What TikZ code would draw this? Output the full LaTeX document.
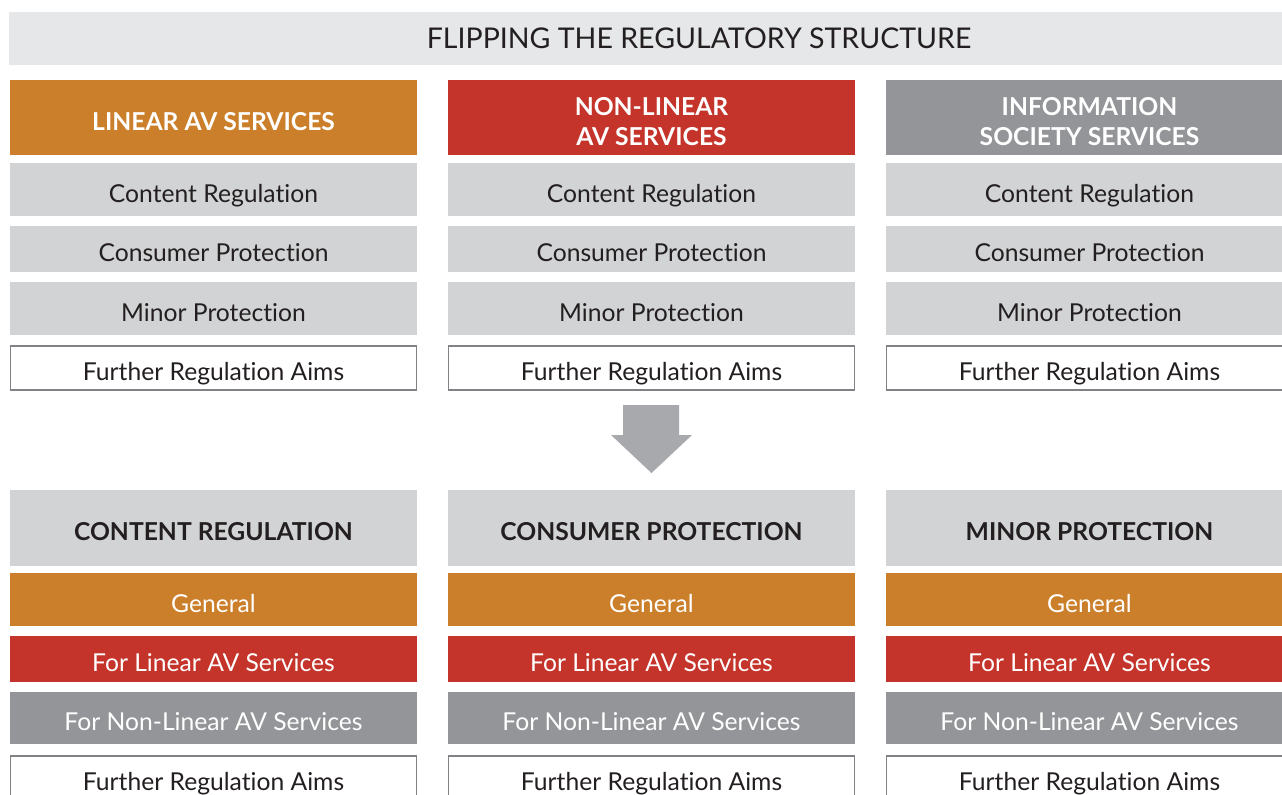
\documentclass[tikz,border=0pt]{standalone}
\usepackage{fontspec}
\setmainfont{Lato}[Ligatures={NoCommon,NoContextual}]
\definecolor{tband}{HTML}{E6E7E8}
\definecolor{lgray}{HTML}{D1D3D4}
\definecolor{dgray}{HTML}{939598}
\definecolor{orng}{HTML}{CC7F2A}
\definecolor{rred}{HTML}{C4342A}
\definecolor{txt}{HTML}{231F20}
\definecolor{bord}{HTML}{808285}
\definecolor{arr}{HTML}{A7A9AC}
\begin{document}
\begin{tikzpicture}[x=0.75pt,y=-0.75pt,
  cell/.style 2 args={rectangle,anchor=north west,inner sep=0pt,outer sep=0pt,
    minimum width=#1*0.75pt,minimum height=#2*0.75pt,align=center},
  hdr/.style={font=\fontsize{18.5}{22}\selectfont\bfseries,text height=19pt,text depth=0pt},
  hdrtwo/.style={font=\fontsize{18.5}{22}\selectfont\bfseries,align=center,inner sep=0pt,yshift=-3pt},
  reg/.style={font=\fontsize{18.5}{22}\selectfont,text=txt,text height=19pt,text depth=0pt},
  lg/.style={fill=lgray},
  wh/.style={fill=white,draw=bord,line width=0.9pt},
  og/.style={fill=orng,text=white},
  rd/.style={fill=rred,text=white},
  dg/.style={fill=dgray,text=white}]
\useasboundingbox (0,0) rectangle (1282,794);
\fill[white] (0,0) rectangle (1282,794);
% title
\node[cell={1290}{53},fill=tband] (title) at (9,12) {};
\node[font=\fontsize{21.4}{24}\selectfont,text=txt] (titletext) at (699,38.5) {FLIPPING THE REGULATORY STRUCTURE};
% top headers
\node[cell={407}{75},og,hdr] (h1) at (10,80) {LINEAR AV SERVICES};
\node[cell={407}{75},rd] (h2) at (448,80) {};
\node[hdrtwo,text=white] (h2t) at (h2.center) {NON-LINEAR\\AV SERVICES};
\node[cell={407}{75},dg] (h3) at (886,80) {};
\node[hdrtwo,text=white] (h3t) at (h3.center) {INFORMATION\\SOCIETY SERVICES};
\foreach \c/\x in {1/10,2/448,3/886}{
  \node[cell={407}{53},lg,reg] (a\c) at (\x,163) {Content Regulation};
  \node[cell={407}{46},lg,reg] (b\c) at (\x,226) {Consumer Protection};
  \node[cell={407}{53},lg,reg] (c\c) at (\x,282) {Minor Protection};
  \node[cell={406}{44},wh,reg] (d\c) at (\x+0.5,346) {Further Regulation Aims};
}
% arrow
\fill[arr] (623,405) -- (679,405) -- (679,435) -- (692,435) -- (651.5,473) -- (611,435) -- (623,435) -- cycle;
\coordinate (arrtip) at (651.5,473);
% bottom headers
\node[cell={407}{76},lg,hdr,text=txt] (H1) at (10,490) {CONTENT REGULATION};
\node[cell={407}{76},lg,hdr,text=txt] (H2) at (448,490) {CONSUMER PROTECTION};
\node[cell={407}{76},lg,hdr,text=txt] (H3) at (886,490) {MINOR PROTECTION};
\foreach \c/\x in {1/10,2/448,3/886}{
  \node[cell={407}{53},og,reg,text=white] (e\c) at (\x,573) {General};
  \node[cell={407}{46},rd,reg,text=white] (f\c) at (\x,636) {For Linear AV Services};
  \node[cell={407}{52},dg,reg,text=white] (g\c) at (\x,692) {For Non-Linear AV Services};
  \node[cell={406}{50},wh] (k\c) at (\x+0.5,756) {};
  \node[reg] (kt\c) at (\x+203.5,778) {Further Regulation Aims};
}
\end{tikzpicture}
\end{document}
